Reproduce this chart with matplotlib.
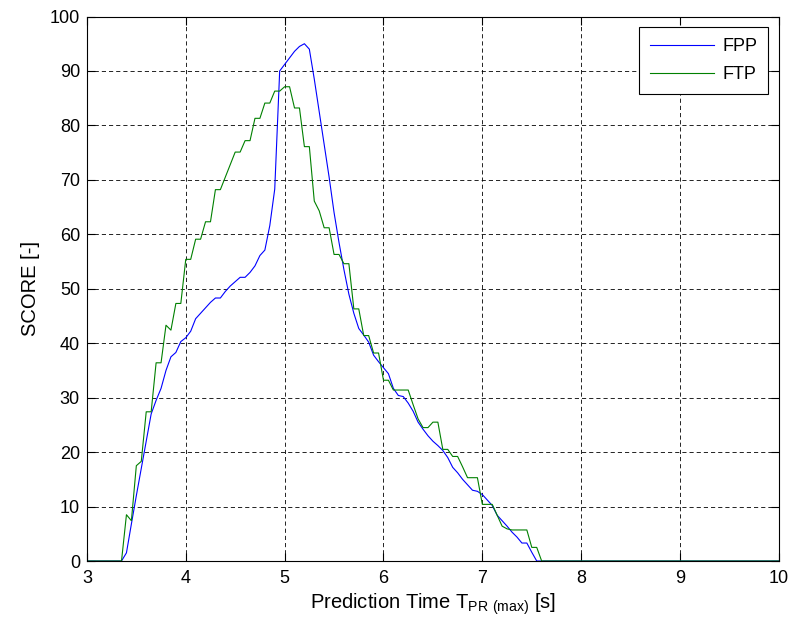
import numpy as np
import matplotlib
matplotlib.use('Agg')
import matplotlib.pyplot as plt

plt.rcParams['font.family'] = ['Liberation Sans', 'DejaVu Sans']
plt.rcParams['mathtext.default'] = 'regular'

# prediction time grid (s), scores are zero outside this window
t_start = 3.30
t_step = 0.05
t_min, t_max = 3.0, 10.0

fpp = [0, 0, 1.5, 6.8, 12, 17, 22, 27, 29.5, 31.7,
       35, 37.5, 38.3, 40.3, 41, 42.2, 44.5, 45.5, 46.5, 47.5,
       48.3, 48.3, 49.5, 50.5, 51.3, 52.1, 52.1, 53, 54.2, 56.1,
       57.1, 61.6, 68.3, 90, 91.2, 92.4, 93.6, 94.5, 95, 94,
       88.5, 82.5, 76.5, 70.5, 64, 58.5, 53.5, 49, 45.5, 42.7,
       41.5, 40.2, 37.8, 36.6, 35.5, 34.4, 31.7, 30.4, 30.2, 29,
       27.5, 25.5, 24.2, 23, 22, 21.2, 20.3, 19, 17.2, 16.2,
       15, 14, 13, 12.8, 12.2, 11.2, 10.2, 8.4, 7.4, 6.4,
       5.3, 4.4, 3.3, 3.3, 1.6, 0, 0]

ftp = [0, 0, 8.5, 7.4, 17.5, 18.3, 27.4, 27.4, 36.4, 36.4,
       43.3, 42.4, 47.3, 47.3, 55.4, 55.4, 59.1, 59.1, 62.3, 62.3,
       68.2, 68.2, 70.5, 72.8, 75.1, 75.1, 77.2, 77.2, 81.3, 81.3,
       84.1, 84.1, 86.3, 86.3, 87.1, 87.1, 83.2, 83.2, 76.1, 76.1,
       66.1, 64.3, 61.2, 61.2, 56.3, 56.3, 54.6, 54.6, 46.3, 46.3,
       41.4, 41.4, 38.2, 38.2, 33.2, 33.2, 31.4, 31.4, 31.4, 31.4,
       28.7, 26.1, 24.5, 24.5, 25.5, 25.5, 20.5, 20.5, 19.2, 19.2,
       17.3, 15.3, 15.3, 15.3, 10.4, 10.4, 10.4, 8.4, 6.4, 5.9,
       5.7, 5.7, 5.7, 5.7, 2.5, 2.5, 0]

labels = ['FPP', 'FTP']
colors = ['#0000ff', '#008000']

t = t_start + t_step * np.arange(len(fpp))
t = np.concatenate([[t_min], t, [t_max]])
series = [np.concatenate([[0], fpp, [0]]), np.concatenate([[0], ftp, [0]])]

fig = plt.figure(figsize=(7.9, 6.25), dpi=100)
ax = fig.add_axes([0.110, 0.1024, 0.876, 0.8712])

for y, lab, c in zip(series, labels, colors):
    ax.plot(t, y, color=c, linewidth=0.8, label=lab)

ax.set_xlim(t_min, t_max)
ax.set_ylim(0, 100)
ax.set_xticks(np.arange(3, 11, 1))
ax.set_yticks(np.arange(0, 101, 10))

ax.set_axisbelow(True)
ax.grid(True, color='k', linestyle=(0, (5, 3.6)), linewidth=0.6)
ax.tick_params(direction='in', top=True, right=True, length=5.5, width=0.8,
               pad=5, labelsize=13)
ax.tick_params(axis='x', pad=6.5)
for s in ax.spines.values():
    s.set_linewidth(0.8)

ax.set_xlabel('Prediction Time T$_{PR\\ (max)}$ [s]', fontsize=14.5, labelpad=3)
ax.set_ylabel('SCORE [-]', fontsize=14.5, labelpad=7)

leg = ax.legend(loc='upper right', fontsize=13, fancybox=False, framealpha=1,
                edgecolor='k', handlelength=3.55, handletextpad=0.45,
                borderpad=0.6, labelspacing=0.6, borderaxespad=0.6)
leg.get_frame().set_linewidth(0.8)

fig.savefig('out.png', dpi=100)
